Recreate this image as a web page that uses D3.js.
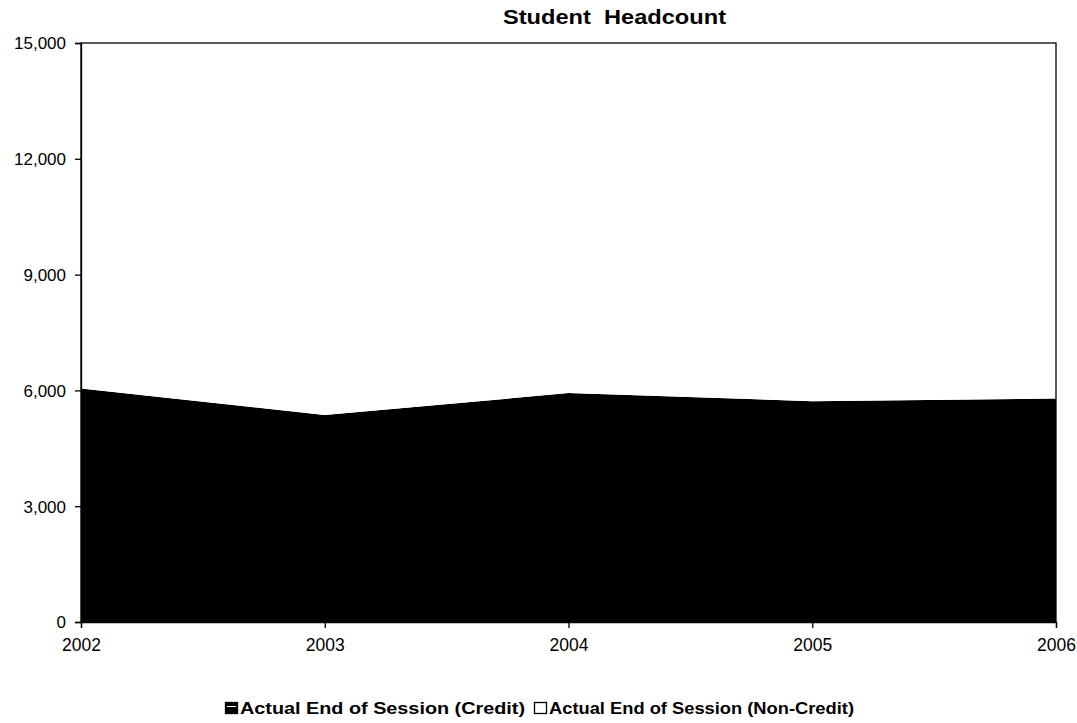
<!DOCTYPE html>
<html><head><meta charset="utf-8">
<script src="https://cdn.jsdelivr.net/npm/d3@7"></script>
<style>body{margin:0;background:#fff}svg{display:block}</style>
</head><body>
<script>
const years = [2002, 2003, 2004, 2005, 2006];
const credit = [6050, 5360, 5930, 5720, 5790];
const nonCredit = [40, 30, 30, 30, 30];
const seriesNames = ["Actual End of Session (Credit)", "Actual End of Session (Non-Credit)"];
const yTicks = [0, 3000, 6000, 9000, 12000, 15000];

const W = 1077, H = 723;
const m = {l: 81, r: 21, t: 43, b: 101};
const svg = d3.select("body").append("svg").attr("width", W).attr("height", H);
const x = d3.scaleLinear().domain([2002, 2006]).range([m.l, W - m.r]);
const y = d3.scaleLinear().domain([0, 15000]).range([H - m.b, m.t]);

const rows = years.map((yr, i) => ({year: yr, credit: credit[i], nonCredit: nonCredit[i]}));
const stack = d3.stack().keys(["credit", "nonCredit"])(rows);
const area = d3.area().x(d => x(d.data.year)).y0(d => y(d[0])).y1(d => y(d[1]));
const fills = ["#000", "#fff"];
svg.selectAll("path.a").data(stack).join("path").attr("class", "a")
  .attr("d", area).attr("fill", (d, i) => fills[i]).attr("stroke", "none");

// frame
svg.append("rect").attr("x", m.l).attr("y", m.t).attr("width", W - m.r - m.l).attr("height", H - m.b - m.t)
  .attr("fill", "none").attr("stroke", "#000").attr("stroke-width", 1.3);

const font = "Arial, 'Liberation Sans', sans-serif";
const yAxis = svg.append("g").attr("transform", `translate(${m.l},0)`)
  .call(d3.axisLeft(y).tickValues(yTicks).tickSize(6).tickPadding(9).tickFormat(d3.format(",")));
const xAxis = svg.append("g").attr("transform", `translate(0,${H - m.b})`)
  .call(d3.axisBottom(x).tickValues(years).tickSize(6).tickPadding(11).tickFormat(d3.format("d")));
[yAxis, xAxis].forEach(a => {
  a.select(".domain").attr("stroke", "#000").attr("stroke-width", 1.3);
  a.selectAll(".tick line").attr("stroke", "#000").attr("stroke-width", 1.3);
  a.selectAll("text").attr("font-family", font).attr("fill", "#000");
});
yAxis.selectAll("text").attr("font-size", 17).attr("dy", "0.35em");
xAxis.selectAll("text").attr("font-size", 17.5);

svg.append("text").attr("x", 503).attr("y", 24)
  .attr("font-family", font).attr("font-weight", "bold").attr("font-size", 20.5)
  .style("white-space", "pre")
  .attr("textLength", 223).attr("lengthAdjust", "spacingAndGlyphs")
  .text("Student  Headcount");

// legend
const lg = svg.append("g").attr("font-family", font).attr("font-weight", "bold").attr("font-size", 16);
const items = [{x: 225, name: seriesNames[0], fill: "#000", len: 285},
               {x: 534, name: seriesNames[1], fill: "#fff", len: 305}];
items.forEach(it => {
  lg.append("rect").attr("x", it.x + 0.5).attr("y", 702.5).attr("width", 12).attr("height", 11)
    .attr("fill", it.fill).attr("stroke", "#000").attr("stroke-width", 1.3);
  if (it.fill === "#000") {
    lg.append("line").attr("x1", it.x + 2).attr("x2", it.x + 11).attr("y1", 706.5).attr("y2", 706.5)
      .attr("stroke", "#fff").attr("stroke-width", 1);
  }
  lg.append("text").attr("x", it.x + 15).attr("y", 713.5)
    .attr("textLength", it.len).attr("lengthAdjust", "spacingAndGlyphs").text(it.name);
});
</script>
</body></html>
